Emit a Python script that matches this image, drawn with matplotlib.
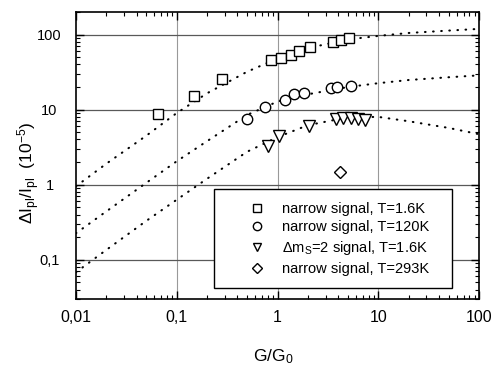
import numpy as np
import matplotlib
matplotlib.use('Agg')
import matplotlib.pyplot as plt
from matplotlib.ticker import LogLocator, FixedLocator, NullFormatter

plt.rcParams['font.family'] = ['Liberation Sans', 'DejaVu Sans']
plt.rcParams['mathtext.default'] = 'regular'

# measured points (G/G0, dI/I in 1e-5)
sq_x = [0.065, 0.148, 0.281, 0.865, 1.09, 1.35, 1.63, 2.11, 3.58, 4.27, 5.16]
sq_y = [8.66, 15.0, 25.3, 45.4, 49.3, 53.6, 60.0, 68.6, 79.0, 85.8, 90.4]

ci_x = [0.497, 0.743, 1.20, 1.45, 1.82, 3.40, 3.87, 5.32]
ci_y = [7.59, 10.7, 13.6, 16.0, 16.7, 19.2, 19.8, 20.9]

tr_x = [0.797, 1.04, 2.06, 3.81, 4.50, 5.40, 6.34, 7.30]
tr_y = [3.31, 4.50, 5.99, 7.52, 7.70, 7.70, 7.52, 7.29]

di_x = [4.2]
di_y = [1.47]

# dotted fit curves
fit_x = [0.01, 0.02, 0.05, 0.1, 0.2, 0.5, 1, 2, 5, 10, 20, 50, 100]
fit_sq = [0.95, 1.9, 4.5, 9.0, 16.5, 32, 48, 66, 86, 96, 105, 113, 119]
fit_ci = [0.225, 0.44, 1.06, 2.05, 3.8, 8.5, 12.8, 16.0, 20.0, 22.5, 24.8, 27, 28.6]
fit_tr = [0.068, 0.135, 0.33, 0.63, 1.2, 2.75, 4.3, 6.2, 7.9, 8.0, 7.0, 5.7, 4.7]

labels = ['narrow signal, T=1.6K', 'narrow signal, T=120K',
          r'$\Delta m_S$=2 signal, T=1.6K', 'narrow signal, T=293K']
xticklabels = ['0,01', '0,1', '1', '10', '100']
yticks = [0.1, 1, 10, 100]
yticklabels = ['0,1', '1', '10', '100']

fig = plt.figure(figsize=(4.96, 3.68), dpi=100)
ax = fig.add_axes([0.153, 0.1875, 0.813, 0.780])
ax.set_xscale('log')
ax.set_yscale('log')
ax.set_xlim(0.01, 100)
ax.set_ylim(0.03, 200)

for xd in [0.1, 1, 10]:
    ax.axvline(xd, color='0.6', lw=0.8, zorder=0)
for yd in [0.1, 1, 10, 100]:
    ax.axhline(yd, color='0.35', lw=0.9, zorder=0)

dots = (0, (0.3, 3.6))
for fy in [fit_sq, fit_ci, fit_tr]:
    ax.plot(fit_x, fy, color='k', lw=1.5, linestyle=dots,
            dash_capstyle='round', zorder=1)

mk = dict(linestyle='none', mfc='white', mec='k', mew=1.0, zorder=3)
ax.plot(sq_x, sq_y, marker='s', ms=7, label=labels[0], **mk)
ax.plot(ci_x, ci_y, marker='o', ms=7.5, label=labels[1], **mk)
ax.plot(tr_x, tr_y, marker='v', ms=8, label=labels[2], **mk)
ax.plot(di_x, di_y, marker='D', ms=6.5, label=labels[3], **mk)

ax.xaxis.set_major_locator(FixedLocator([0.01, 0.1, 1, 10, 100]))
ax.set_xticklabels(xticklabels)
ax.xaxis.set_minor_locator(LogLocator(base=10, subs=np.arange(2, 10)))
ax.xaxis.set_minor_formatter(NullFormatter())
ax.yaxis.set_major_locator(FixedLocator(yticks))
ax.set_yticklabels(yticklabels)
ax.yaxis.set_minor_locator(LogLocator(base=10, subs=np.arange(2, 10)))
ax.yaxis.set_minor_formatter(NullFormatter())

ax.tick_params(which='both', direction='in', top=True, right=True, color='k')
ax.tick_params(which='major', length=6, width=1.0)
ax.tick_params(which='minor', length=3, width=0.8)
ax.tick_params(axis='x', which='major', labelsize=11.5, pad=8)
ax.tick_params(axis='y', which='major', labelsize=10.5, pad=19)
for t in ax.get_yticklabels():
    t.set_ha('center')
for s in ax.spines.values():
    s.set_linewidth(1.2)

ax.set_xlabel(r'G/G$_0$', fontsize=12.5)
ax.xaxis.set_label_coords(0.49, -0.202)
ax.xaxis.label.set_va('center')
ax.set_ylabel(r'$\Delta I_{pl}/I_{pl}$  (10$^{-5}$)', fontsize=12.5)
ax.yaxis.set_label_coords(-0.118, 0.44)
ax.yaxis.label.set_va('center')

leg = ax.legend(loc='lower left', bbox_to_anchor=(0.342, 0.038, 0.591, 0.345),
                mode='expand', fontsize=10.5, frameon=True, fancybox=False,
                edgecolor='k', framealpha=1, numpoints=1, borderpad=0.85,
                handlelength=4.2, handletextpad=-0.4, labelspacing=0.32,
                borderaxespad=0, markerscale=0.8)
leg.get_frame().set_linewidth(1.0)

fig.savefig('out.png', dpi=100)
